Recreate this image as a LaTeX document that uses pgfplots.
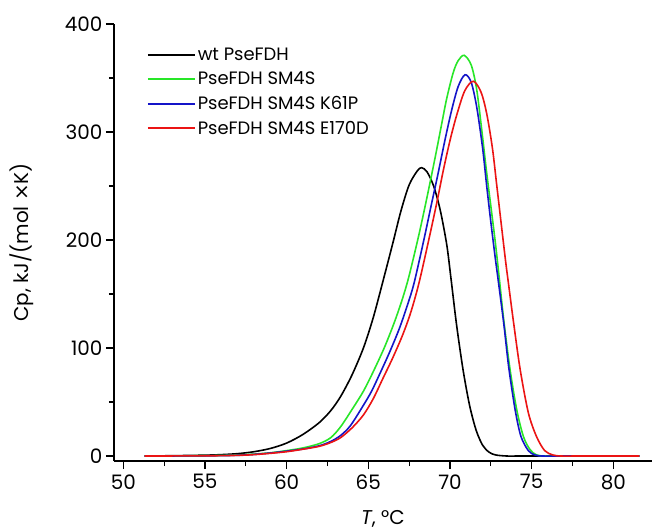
\documentclass[border=0pt]{standalone}
\usepackage{pgfplots}
\pgfplotsset{compat=1.18}
\usepackage{fontspec}
\setmainfont{Poppins}
\newfontfamily\symfont{DejaVu Sans}
\definecolor{cgreen}{RGB}{40,230,40}
\definecolor{cblue}{RGB}{20,20,200}
\definecolor{cred}{RGB}{235,20,20}
\begin{document}
\begin{tikzpicture}
\useasboundingbox (-114bp,-70bp) rectangle (538bp,461bp);
\begin{axis}[
  at={(0,0)}, anchor=south west,
  scale only axis, width=538bp, height=437bp,
  xmin=49.43, xmax=82.37, ymin=-4.6, ymax=400,
  axis x line=bottom, axis y line=left,
  axis line style={-, line width=1.2bp},
  xtick={50,55,...,80}, ytick={0,100,...,400},
  minor x tick num=1, minor y tick num=1,
  tick align=outside,
  major tick length=8bp, minor tick length=5bp,
  every tick/.style={black, line width=1.2bp},
  /pgf/number format/assume math mode=true,
  tick label style={font=\fontsize{20}{24}\selectfont},
  xticklabel style={yshift=-2bp},
  label style={font=\fontsize{20}{24}\selectfont},
  xlabel={\textit{T}, °C},
  ylabel={Cp, kJ/(mol {\symfont ×}K)},
  xlabel style={at={(axis description cs:0.5,-0.133)}, anchor=center},
  ylabel style={at={(axis description cs:-0.171,0.5)}, anchor=center},
  legend style={draw=none, at={(axis description cs:0.055,0.955)}, anchor=north west,
    font=\fontsize{18}{21}\selectfont, row sep=6bp},
  legend cell align=left,
  legend image code/.code={\draw[#1] (0bp,0bp) -- (47bp,0bp);},
  every legend image post/.style={line width=2bp},
]
\addlegendimage{black}
\addlegendentry{wt PseFDH}
\addlegendimage{cgreen}
\addlegendentry{PseFDH SM4S}
\addlegendimage{cblue}
\addlegendentry{PseFDH SM4S K61P}
\addlegendimage{cred}
\addlegendentry{PseFDH SM4S E170D}
\addplot[black, line width=1.6bp, smooth, tension=0.5, forget plot] coordinates {
(51.3,0) (53,0.3) (55,0.8) (56,1.3) (57,2.2) (58,4) (59,7) (60,12) (61,20) (62,31) (62.7,42)
(63.3,55) (64,75) (64.7,100) (65.3,128) (65.9,162) (66.5,197) (67,227) (67.5,251) (68,264)
(68.27,267) (68.6,263) (69,250) (69.4,228) (69.8,196) (70.05,166) (70.4,122) (70.8,80)
(71.2,47) (71.6,24) (72,10) (72.4,3.5) (72.8,1) (73.5,0) (74.5,0) (81.6,0)};
\addplot[cgreen, line width=1.6bp, smooth, tension=0.5, forget plot] coordinates {
(51.3,0) (55,0.3) (57,1) (58,1.8) (59,3) (60,5) (61,7.5) (62,11.5) (62.7,17) (63.3,27) (64,43)
(64.7,60) (65.3,78) (66,101) (66.6,124) (67.1,146) (67.5,167) (68.1,205) (68.6,240) (69.1,277)
(69.5,308) (69.8,331) (70.2,355) (70.5,366) (70.87,371) (71.3,362) (71.64,339) (72,295)
(72.25,262) (72.76,200) (73.03,163) (73.3,125) (73.68,80) (74.1,42) (74.5,18) (74.9,6)
(75.3,1) (75.8,0) (76.8,0) (81.6,0)};
\addplot[cblue, line width=1.6bp, smooth, tension=0.5, forget plot] coordinates {
(51.3,0) (55,0.2) (57,0.7) (58,1.5) (59,2.8) (60,4.5) (61,6.5) (62,9.5) (62.7,13.5) (63.3,19)
(63.9,28) (64.7,47) (65.2,60) (65.7,76) (66.3,96) (66.9,118) (67.4,140) (67.8,160) (68.4,200)
(68.85,232) (69.25,260) (69.7,293) (70.1,320) (70.5,342) (70.92,353) (71.3,346) (71.64,323)
(72,285) (72.25,250) (72.5,217) (72.76,185) (72.96,162) (73.3,122) (73.6,82) (74,42)
(74.35,18) (74.8,5) (75.2,1) (75.7,0) (76.8,0) (81.6,0)};
\addplot[cred, line width=1.6bp, smooth, tension=0.5, forget plot] coordinates {
(51.3,0) (55,0.2) (57,0.6) (58,1.3) (59,2.5) (60,4) (61,6.3) (62,9) (62.7,12.5) (63.3,17)
(64,26) (64.7,38) (65.3,53) (65.9,72) (66.5,91) (67.1,112) (67.6,133) (68.1,160) (68.7,200)
(69.2,235) (69.6,265) (70,292) (70.4,315) (70.9,338) (71.43,347) (71.9,337) (72.25,317)
(72.6,285) (72.87,250) (73.37,185) (73.58,160) (73.9,123) (74.3,80) (74.8,40) (75.3,18)
(75.8,5) (76.3,1) (76.8,0) (77.8,0) (81.6,0)};
\end{axis}
\end{tikzpicture}
\end{document}
